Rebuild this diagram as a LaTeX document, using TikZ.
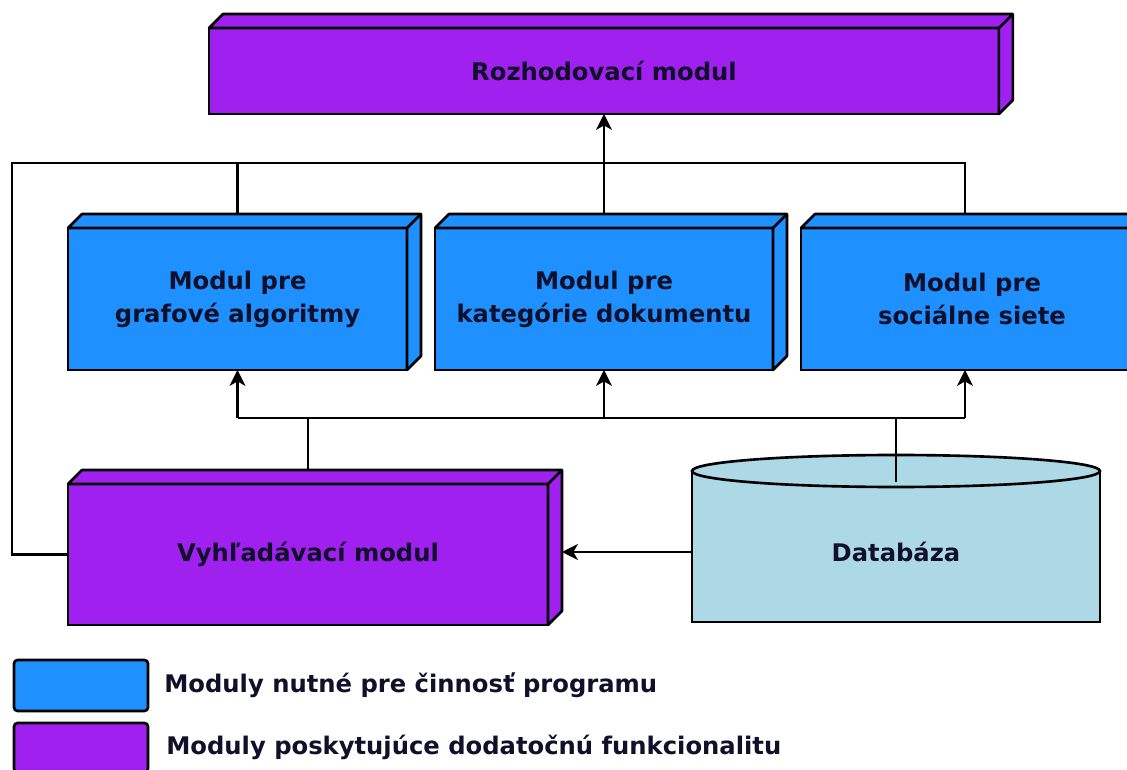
\documentclass[tikz,border=0pt]{standalone}
\usepackage{fontspec}
\setmainfont{DejaVu Sans}
\usepackage{xcolor}
\usetikzlibrary{arrows.meta, positioning, backgrounds}

\definecolor{modra}{HTML}{1E90FF}
\definecolor{fialova}{HTML}{A020F0}
\definecolor{svetlomodra}{HTML}{ADD8E6}
\definecolor{pismo}{HTML}{10102A}

% horna a bocna stena kvadra pri uzle #1
\newcommand{\kvader}[2]{%
    \filldraw[fill=#2, line join=round] (#1.north west) -- ++(14,-14)
        -- ([shift={(14,-14)}]#1.north east) -- ([shift={(14,-14)}]#1.south east)
        -- (#1.south east) -- (#1.north east) -- cycle;
    \draw (#1.north east) -- ++(14,-14);
}

\begin{document}
\begin{tikzpicture}[x=0.02cm, y=-0.02cm, line width=1.5pt,
    >={Stealth[length=9pt, width=9pt, inset=2.5pt]},
    modul/.style={draw, inner sep=0pt, outer sep=0pt, align=center, text=pismo,
        font=\fontsize{13.8}{18.7}\selectfont\bfseries},
    legtext/.style={inner sep=0pt, text=pismo, anchor=west,
        font=\fontsize{13.8}{16}\selectfont\bfseries}]
    \useasboundingbox (0,0) rectangle (1127,770);

    % Moduly ako kvadre
    \node[modul, fill=fialova, minimum width=15.8cm, minimum height=1.72cm] (rozh) at (604,71) {Rozhodovací modul};
    \kvader{rozh}{fialova}
    \node[modul, fill=modra, minimum width=6.78cm, minimum height=2.84cm] (graf) at (237.5,299) {Modul pre\\grafové algoritmy};
    \kvader{graf}{modra}
    \node[modul, fill=modra, minimum width=6.76cm, minimum height=2.84cm] (kat) at (604,299) {Modul pre\\kategórie dokumentu};
    \kvader{kat}{modra}
    \node[modul, fill=modra, minimum width=6.84cm, minimum height=2.84cm] (soc) at (972,299) {Modul pre\\sociálne siete};
    \kvader{soc}{modra}
    \node[modul, fill=fialova, minimum width=9.6cm, minimum height=2.82cm] (vyh) at (308,554.5) {Vyhľadávací modul};
    \kvader{vyh}{fialova}

    % Databaza (valec s rovnym dnom)
    \filldraw[fill=svetlomodra] (692,471) -- (692,622) -- (1100,622) -- (1100,471);
    \filldraw[fill=svetlomodra] (896,471) ellipse [x radius=4.08cm, y radius=0.32cm];
    \node[inner sep=0pt, outer sep=0pt, minimum width=8.16cm, minimum height=2.82cm, text=pismo,
        font=\fontsize{13.8}{18.7}\selectfont\bfseries] (db) at (896,552) {Databáza};

    % Spojenia pod modulmi
    \coordinate (zb) at (0,418);      % zbernica
    \coordinate (slucka) at (12,163); % horna slucka
    \coordinate (socx) at (965,0);    % vstup do soc. modulu
    \begin{scope}[on background layer={line width=1.5pt}]
        \draw (graf.south |- zb) -- (socx |- zb);
        \draw[->] (graf.south |- zb) -- (graf.south);
        \draw[->] (kat.south |- zb) -- (kat.south);
        \draw[->] (socx |- zb) -- (socx |- soc.south);
        \draw (vyh.north) -- (vyh.north |- zb);
        \draw (vyh.west) -| (slucka) -| (socx |- soc.north);
        \draw (graf.north |- slucka) -- (graf.north);
        \draw[->] (kat.north) -- (rozh.south);
    \end{scope}
    \draw (db.north) -- (db.north |- zb);
    \coordinate (vyhbok) at (562,552);
    \draw[->] (db.west) -- (vyhbok);

    % Legenda
    \node[draw, fill=modra, rounded corners=2pt, inner sep=0pt, outer sep=0pt,
        minimum width=2.68cm, minimum height=1.02cm] (legm) at (81,685.5) {};
    \node[legtext, right=0.3cm of legm] (legmtxt) {Moduly nutné pre činnosť programu};
    \node[draw, fill=fialova, rounded corners=2pt, inner sep=0pt, outer sep=0pt,
        minimum width=2.68cm, minimum height=0.98cm] (legf) at (81,747.5) {};
    \node[legtext, right=0.34cm of legf] (legftxt) {Moduly poskytujúce dodatočnú funkcionalitu};
\end{tikzpicture}
\end{document}
